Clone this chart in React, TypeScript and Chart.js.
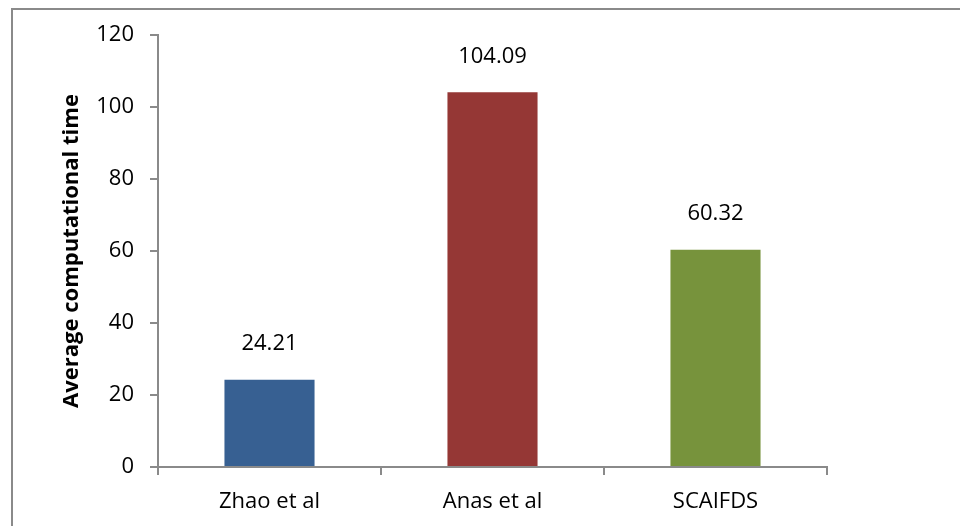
import React, { useEffect, useRef } from "react";
import { Chart, registerables } from "chart.js";

Chart.register(...registerables);

const categories = ["Zhao et al", "Anas et al", "SCAIFDS"];
const avgTime = [24.21, 104.09, 60.32];
const barColors = ["#376092", "#953735", "#77933C"];
const yTicks = [0, 20, 40, 60, 80, 100, 120];
const yTitle = "Average computational time";

const FONT = "'Open Sans', 'Liberation Sans', sans-serif";

// Writes each bar's value above it
const valueLabels = {
  id: "valueLabels",
  afterDatasetsDraw(chart: any) {
    const ctx = chart.ctx;
    const meta = chart.getDatasetMeta(0);
    ctx.save();
    ctx.font = `22px ${FONT}`;
    ctx.fillStyle = "#000";
    ctx.textAlign = "center";
    ctx.textBaseline = "middle";
    meta.data.forEach((bar: any, i: number) => {
      ctx.fillText(avgTime[i].toFixed(2), bar.x, bar.y - 36);
    });
    ctx.restore();
  },
};

// Frame around the chart
const frame = {
  id: "frame",
  beforeDraw(chart: any) {
    const ctx = chart.ctx;
    ctx.save();
    ctx.fillStyle = "#fff";
    ctx.fillRect(0, 0, chart.width, chart.height);
    ctx.fillStyle = "#8a8a8a";
    ctx.fillRect(11, 8, chart.width - 11, 2);
    ctx.fillRect(11, 8, 2, chart.height - 8);
    ctx.restore();
  },
};

export default function App() {
  const ref = useRef<HTMLCanvasElement>(null);

  useEffect(() => {
    if (!ref.current) return;
    const chart = new Chart(ref.current, {
      type: "bar",
      data: {
        labels: categories,
        datasets: [
          {
            data: avgTime,
            backgroundColor: barColors,
            borderWidth: 0,
            categoryPercentage: 1,
            barPercentage: 0.404,
          },
        ],
      },
      options: {
        responsive: false,
        animation: false,
        layout: { padding: { left: 59, right: 133, top: 35, bottom: 0 } },
        plugins: {
          legend: { display: false },
          tooltip: { enabled: false },
        },
        scales: {
          x: {
            grid: {
              display: true,
              drawOnChartArea: false,
              drawTicks: true,
              tickLength: 8,
              color: "#8a8a8a",
              lineWidth: 2,
              offset: true,
            },
            border: { color: "#8a8a8a", width: 2 },
            ticks: {
              color: "#000",
              font: { family: FONT, size: 22 },
              padding: 14,
            },
            afterFit(scale: any) {
              scale.height = 59;
            },
          },
          y: {
            min: 0,
            max: 120,
            afterBuildTicks(scale: any) {
              scale.ticks = yTicks.map((v) => ({ value: v }));
            },
            grid: {
              display: true,
              drawOnChartArea: false,
              drawTicks: true,
              tickLength: 8,
              color: "#8a8a8a",
              lineWidth: 2,
            },
            border: { color: "#8a8a8a", width: 2 },
            ticks: {
              color: "#000",
              font: { family: FONT, size: 22 },
              padding: 16,
            },
            title: {
              display: true,
              text: yTitle,
              color: "#000",
              font: { family: FONT, size: 22, weight: "bold" },
              padding: 0,
            },
            afterFit(scale: any) {
              scale.width = 99;
            },
          },
        },
      },
      plugins: [frame, valueLabels],
    });
    return () => chart.destroy();
  }, []);

  return (
    <div style={{ position: "fixed", left: 0, top: 0, width: 960, height: 526 }}>
      <canvas ref={ref} width={960} height={526} />
    </div>
  );
}
